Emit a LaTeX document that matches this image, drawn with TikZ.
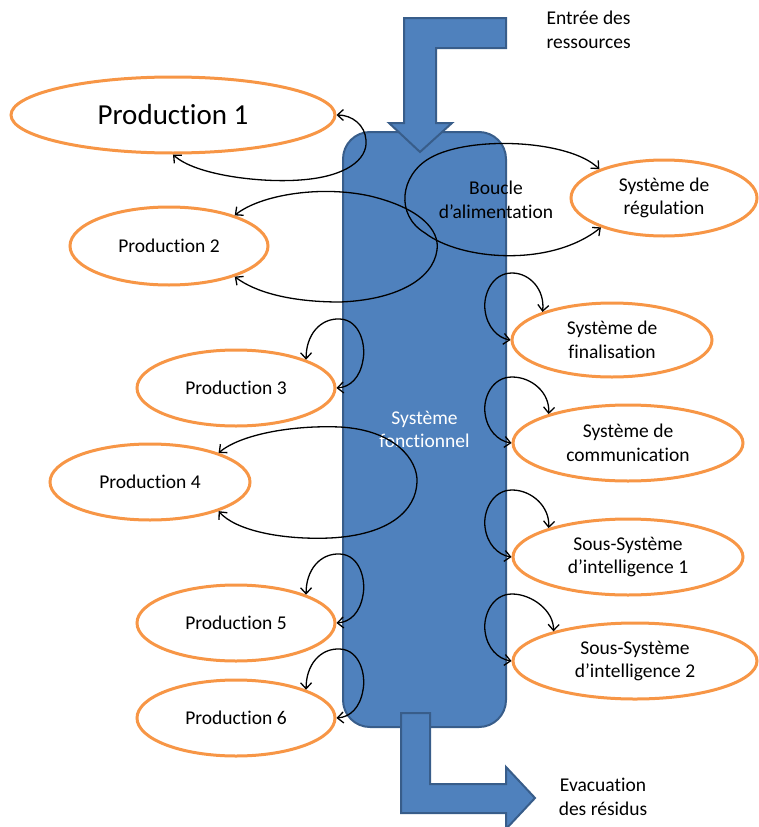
\documentclass[tikz,border=0pt]{standalone}
\usepackage{fontspec}
\setmainfont{Carlito}[Ligatures={NoCommon}]
\usetikzlibrary{shapes.geometric,arrows.meta}
\definecolor{sysblue}{HTML}{4F81BD}
\definecolor{sysedge}{HTML}{385D8A}
\definecolor{prodorange}{HTML}{F79646}
\begin{document}
\begin{tikzpicture}[x=1pt,y=-1pt,
  txt/.style={font=\fontsize{19.5}{23.5}\selectfont, align=center, text=black},
  oval/.style={ellipse, draw=prodorange, line width=3pt, fill=white, inner sep=0pt, txt},
  flow/.style={fill=sysblue, draw=sysedge, line width=2pt, line join=miter},
  cyc/.style={draw=black, line width=1.3pt, {Straight Barb[length=6pt,width=11pt]}-{Straight Barb[length=6pt,width=11pt]}}
]
\useasboundingbox (0,0) rectangle (759,827);

% central system
\node[flow, rounded corners=27pt, minimum width=163, minimum height=595, inner sep=0pt, txt, text=white] (sys) at (424.5,429.5) {Système\\fonctionnel};

% flows
\draw[flow] (506,18) -- (404,18) -- (404,123) -- (389,123) -- (420,152) -- (452,123) -- (436,123) -- (436,48) -- (506,48) -- cycle;
\draw[flow] (401,713) -- (430,713) -- (430,784) -- (506,784) -- (506,767) -- (535,798) -- (506,829) -- (506,813) -- (401,813) -- cycle;

% productions
\node[oval, minimum width=324, minimum height=76, font=\fontsize{29}{34}\selectfont] (p1) at (173,115) {Production 1};
\node[oval, minimum width=198, minimum height=78] (p2) at (169,246) {Production 2};
\node[oval, minimum width=198, minimum height=76] (p3) at (236,388) {Production 3};
\node[oval, minimum width=200, minimum height=76] (p4) at (150,482) {Production 4};
\node[oval, minimum width=198, minimum height=76] (p5) at (236,623) {Production 5};
\node[oval, minimum width=198, minimum height=76] (p6) at (236,718) {Production 6};

% subsystems
\node[oval, minimum width=186, minimum height=76] (reg) at (664,198) {Système de\\régulation};
\node[oval, minimum width=200, minimum height=74] (fin) at (612,340) {Système de\\finalisation};
\node[oval, minimum width=230, minimum height=76] (com) at (628,443) {Système de\\communication};
\node[oval, minimum width=230, minimum height=76] (in1) at (628,557) {Sous-Système\\d’intelligence 1};
\node[oval, minimum width=244, minimum height=76] (in2) at (635,661) {Sous-Système\\d’intelligence 2};

% labels
\node[txt, align=left, anchor=west] (entree) at (543,30) {Entrée des\\ressources};
\node[txt] (evac) at (603,797) {Evacuation\\des résidus};
\node[txt] (boucle) at (496,200) {Boucle\\d’alimentation};

% loops
\draw[cyc] (p1.south) .. controls (195,175) and (260,183) .. (300,180) .. controls (345,177) and (368,160) .. (366,140) .. controls (365,125) and (352,115) .. (p1.east);
\draw[cyc] (p2.25) .. controls (260,195) and (320,185) .. (370,196) .. controls (420,208) and (440,230) .. (437,250) .. controls (433,280) and (395,300) .. (340,302) .. controls (290,302) and (255,292) .. (p2.-25);
\draw[cyc] (reg.156) .. controls (570,140) and (470,135) .. (430,158) .. controls (400,175) and (395,215) .. (425,233) .. controls (460,260) and (550,268) .. (reg.205);
\draw[cyc] (p3.22) .. controls (306,335) and (320,318) .. (340,319) .. controls (360,320) and (366,345) .. (363,360) .. controls (360,378) and (350,387) .. (p3.east);
\draw[cyc] (p4.23) .. controls (240,435) and (290,425) .. (340,427) .. controls (395,430) and (418,460) .. (417,482) .. controls (416,510) and (390,535) .. (330,538) .. controls (280,540) and (235,530) .. (p4.-23);
\draw[cyc] (p5.22) .. controls (306,570) and (320,553) .. (340,554) .. controls (360,555) and (366,580) .. (363,595) .. controls (360,613) and (350,622) .. (p5.east);
\draw[cyc] (p6.22) .. controls (306,665) and (320,648) .. (340,649) .. controls (360,650) and (366,675) .. (363,690) .. controls (360,708) and (350,717) .. (p6.east);
\draw[cyc] (fin.158) .. controls (545,290) and (530,273) .. (512,273) .. controls (492,273) and (483,295) .. (485,310) .. controls (487,327) and (498,338) .. (fin.west);
\draw[cyc] (com.160) .. controls (550,393) and (532,377) .. (512,377) .. controls (492,377) and (483,398) .. (485,413) .. controls (487,430) and (498,441) .. (com.west);
\draw[cyc] (in1.160) .. controls (550,507) and (532,490) .. (512,490) .. controls (492,490) and (483,512) .. (485,527) .. controls (487,544) and (498,555) .. (in1.west);
\draw[cyc] (in2.160) .. controls (554,611) and (532,594) .. (512,594) .. controls (492,594) and (483,616) .. (485,631) .. controls (487,648) and (498,659) .. (in2.west);
\end{tikzpicture}
\end{document}
